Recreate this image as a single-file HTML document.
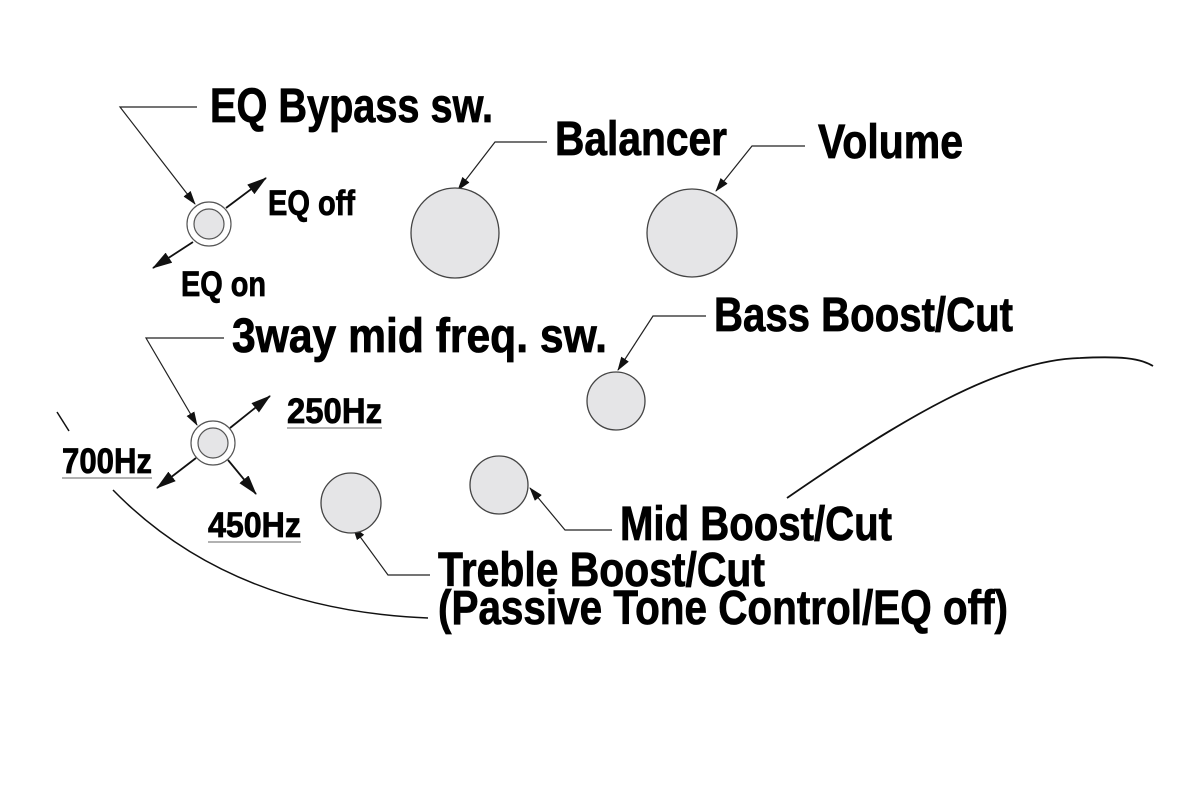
<!DOCTYPE html>
<html><head><meta charset="utf-8"><style>
html,body{margin:0;padding:0;background:#fff;width:1200px;height:800px;overflow:hidden}
svg text{font-family:"Liberation Sans Narrow","Liberation Sans",sans-serif;font-weight:bold;fill:#000;stroke:#000;stroke-width:0.8}
</style></head><body>
<svg width="1200" height="800" viewBox="0 0 1200 800" xmlns="http://www.w3.org/2000/svg">
<defs>
<marker id="a" markerWidth="14" markerHeight="9" refX="13" refY="4.5" orient="auto" markerUnits="userSpaceOnUse"><path d="M0,0 L14,4.5 L0,9 z" fill="#111"/></marker>
<marker id="b" markerWidth="20" markerHeight="12" refX="19" refY="6" orient="auto" markerUnits="userSpaceOnUse"><path d="M0,0 L20,6 L0,12 z" fill="#111"/></marker>
</defs>
<g fill="none" stroke="#222" stroke-width="1.2">
<polyline points="197,107 120,107 195,204" marker-end="url(#a)"/>
<polyline points="224,338 146,338 197,425" marker-end="url(#a)"/>
<polyline points="547,142 495,142 458,190" marker-end="url(#a)"/>
<polyline points="805,146 752,146 716,191" marker-end="url(#a)"/>
<polyline points="706,316 653,316 618,370" marker-end="url(#a)"/>
<polyline points="612,530 565,530 530,488" marker-end="url(#a)"/>
<polyline points="430,575 388,575 353,527" marker-end="url(#a)"/>
</g>
<g fill="none" stroke="#111" stroke-width="1.8">
<line x1="226" y1="208" x2="266" y2="178" marker-end="url(#b)"/>
<line x1="193" y1="242" x2="153" y2="268" marker-end="url(#b)"/>
<line x1="230" y1="428" x2="270" y2="396" marker-end="url(#b)"/>
<line x1="196" y1="458" x2="157" y2="488" marker-end="url(#b)"/>
<line x1="228" y1="460" x2="256" y2="494" marker-end="url(#b)"/>
<path d="M113,490 Q230,610 428,618" stroke-width="1.5"/>
<line x1="57" y1="412" x2="69" y2="431" stroke-width="1.5"/>
<path d="M787,498 C900,420 1000,360 1080,358 C1120,356 1140,358 1153,366" stroke-width="1.8"/>
</g>
<g stroke="#555" stroke-width="1.2">
<circle cx="209" cy="224" r="22" fill="#fff"/>
<circle cx="209" cy="224" r="15" fill="#e5e5e7"/>
<circle cx="213" cy="443" r="22" fill="#fff"/>
<circle cx="213" cy="443" r="15" fill="#e5e5e7"/>
</g>
<g fill="#e5e5e7" stroke="#444" stroke-width="1.3">
<ellipse cx="455" cy="233" rx="44" ry="45"/>
<ellipse cx="692" cy="233" rx="45" ry="44"/>
<ellipse cx="616" cy="401" rx="29" ry="29"/>
<ellipse cx="499" cy="485" rx="29" ry="29"/>
<ellipse cx="351" cy="503" rx="30" ry="30"/>
</g>
<g stroke="#999" stroke-width="1.5">
<line x1="287" y1="428" x2="382" y2="428"/>
<line x1="62" y1="478" x2="152" y2="478"/>
<line x1="208" y1="542" x2="301" y2="542"/>
</g>
<g font-size="48">
<text x="210" y="122" textLength="283" lengthAdjust="spacingAndGlyphs">EQ Bypass sw.</text>
<text x="555" y="155" textLength="172" lengthAdjust="spacingAndGlyphs">Balancer</text>
<text x="818" y="158" textLength="145" lengthAdjust="spacingAndGlyphs">Volume</text>
<text x="714" y="331" textLength="299" lengthAdjust="spacingAndGlyphs">Bass Boost/Cut</text>
<text x="232" y="352" textLength="375" lengthAdjust="spacingAndGlyphs">3way mid freq. sw.</text>
<text x="620" y="540" textLength="272" lengthAdjust="spacingAndGlyphs">Mid Boost/Cut</text>
<text x="438" y="586" textLength="327" lengthAdjust="spacingAndGlyphs">Treble Boost/Cut</text>
<text x="438" y="624" textLength="570" lengthAdjust="spacingAndGlyphs">(Passive Tone Control/EQ off)</text>
</g>
<g font-size="35">
<text x="268" y="215" textLength="87" lengthAdjust="spacingAndGlyphs">EQ off</text>
<text x="181" y="296" textLength="85" lengthAdjust="spacingAndGlyphs">EQ on</text>
<text x="287" y="423" textLength="95" lengthAdjust="spacingAndGlyphs">250Hz</text>
<text x="62" y="473" textLength="90" lengthAdjust="spacingAndGlyphs">700Hz</text>
<text x="208" y="537" textLength="93" lengthAdjust="spacingAndGlyphs">450Hz</text>
</g>
</svg>
</body></html>
